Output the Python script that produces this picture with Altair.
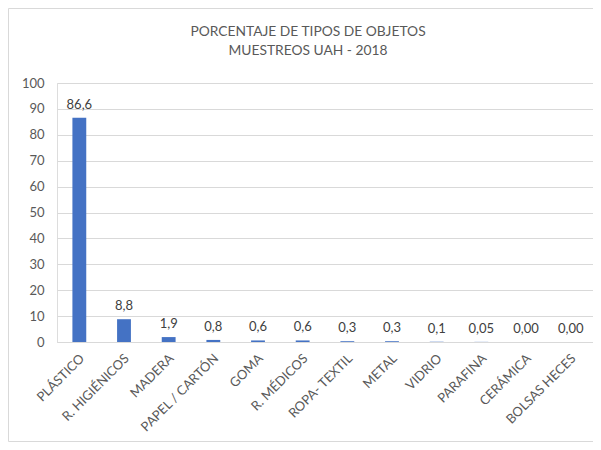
import altair as alt
import pandas as pd

categories = ["PLÁSTICO", "R. HIGIÉNICOS", "MADERA", "PAPEL / CARTÓN", "GOMA",
              "R. MÉDICOS", "ROPA- TEXTIL", "METAL", "VIDRIO", "PARAFINA",
              "CERÁMICA", "BOLSAS HECES"]
values = [86.6, 8.8, 1.9, 0.8, 0.6, 0.6, 0.3, 0.3, 0.1, 0.05, 0.0, 0.0]
labels = ["86,6", "8,8", "1,9", "0,8", "0,6", "0,6", "0,3", "0,3", "0,1",
          "0,05", "0,00", "0,00"]
title_lines = ["PORCENTAJE DE TIPOS DE OBJETOS", "MUESTREOS UAH - 2018"]

df = pd.DataFrame({"cat": categories, "val": values, "lab": labels})

FONT = "Lato"
GREY = "#595959"

x = alt.X("cat:N", sort=categories, title=None,
          scale=alt.Scale(paddingInner=0.69, paddingOuter=0.345),
          axis=alt.Axis(labelAngle=-45, labelFontSize=13, labelColor=GREY,
                        labelFont=FONT, ticks=False, domainColor="#d9d9d9",
                        labelPadding=14, labelOffset=3,
                        labelAlign="right", labelBaseline="middle"))
y = alt.Y("val:Q", title=None,
          scale=alt.Scale(domain=[0, 100]),
          axis=alt.Axis(values=list(range(0, 101, 10)), labelFontSize=13,
                        labelColor=GREY, labelFont=FONT, ticks=False,
                        domain=False, gridColor="#d9d9d9", labelPadding=13))

base = alt.Chart(df)
border = alt.Chart(pd.DataFrame({"a": [0]})).mark_rect(
    fill=None, stroke="#d9d9d9", strokeWidth=1
).encode(x=alt.value(-48.5), x2=alt.value(800), y=alt.value(-74.5), y2=alt.value(358.5))

t1 = alt.Chart(pd.DataFrame({"t": [title_lines[0]]})).mark_text(
    font=FONT, fontSize=13.8, color=GREY, align="center", baseline="middle"
).encode(text="t:N", x=alt.value(251), y=alt.value(-51))
t2 = alt.Chart(pd.DataFrame({"t": [title_lines[1]]})).mark_text(
    font=FONT, fontSize=13.8, color=GREY, align="center", baseline="middle"
).encode(text="t:N", x=alt.value(251), y=alt.value(-32))

bars = base.mark_bar(color="#4472C4").encode(x=x, y=y)
text = base.mark_text(baseline="bottom", dy=-6, fontSize=13, color="#404040",
                      font=FONT).encode(x=x, y=y, text="lab:N")

chart = alt.layer(border, t1, t2, bars, text).properties(
    width=536, height=259,
    autosize=alt.AutoSizeParams(type="none"),
    padding={"left": 49, "top": 75, "right": 0, "bottom": 100},
).configure_view(stroke=None).configure(background="white")

chart.save("out.html", embed_options={"renderer": "svg", "actions": False})
